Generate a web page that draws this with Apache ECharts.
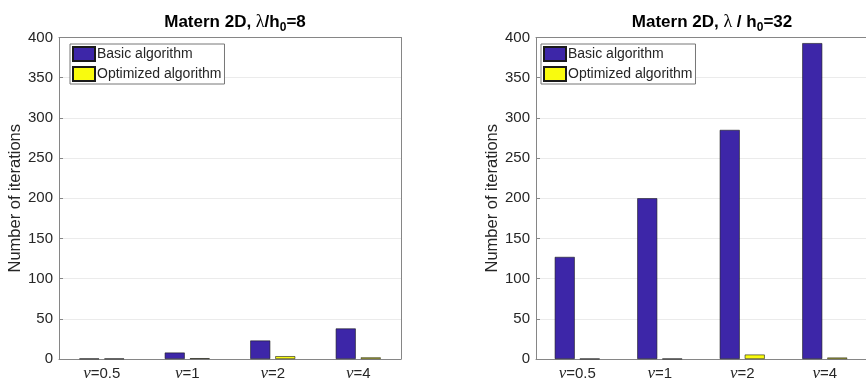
<!DOCTYPE html>
<html>
<head>
<meta charset="utf-8">
<script src="https://cdn.jsdelivr.net/npm/echarts@6/dist/echarts.min.js"></script>
<style>html,body{margin:0;padding:0;background:#fff}#c{width:866px;height:382px}</style>
</head>
<body>
<div id="c"></div>
<script>
const categories = ['0.5', '1', '2', '4'];
const basic8 = [0.5, 8, 23, 38];
const optimized8 = [0.5, 1, 3.5, 2];
const basic32 = [127, 200, 285, 393];
const optimized32 = [0.3, 0.3, 5.5, 1.8];
const yTicks = [0, 50, 100, 150, 200, 250, 300, 350, 400];

const BLUE = '#3d26a8';
const YELLOW = '#f9fb0e';
const AXIS = '#868686';
const TXT = '#262626';

const chart = echarts.init(document.getElementById('c'));

const grids = [
  {left: 59, top: 37.5, width: 342, height: 322.5},
  {left: 536, top: 37.5, width: 342, height: 322.5}
];

function xLabel(v) { return '{n|ν}{t|=' + v + '}'; }

const xAxes = [];
const yAxes = [];
[0, 1].forEach(function (g) {
  xAxes.push({
    type: 'category', gridIndex: g, data: categories, position: 'bottom',
    axisLine: {onZero: false, lineStyle: {color: AXIS, width: 1}},
    axisTick: {inside: true, alignWithLabel: true, length: 4, lineStyle: {color: AXIS}},
    axisLabel: {
      formatter: xLabel, margin: 6,
      rich: {
        n: {fontFamily: 'Liberation Serif', fontStyle: 'italic', fontSize: 17, color: TXT},
        t: {fontFamily: 'Liberation Sans, Arial', fontSize: 15, color: TXT}
      }
    },
    splitLine: {show: false}
  });
  xAxes.push({
    type: 'category', gridIndex: g, data: categories, position: 'top',
    axisLine: {onZero: false, lineStyle: {color: AXIS, width: 1}},
    axisTick: {inside: true, alignWithLabel: true, length: 4, lineStyle: {color: AXIS}},
    axisLabel: {show: false},
    splitLine: {show: false}
  });
  yAxes.push({
    type: 'value', gridIndex: g, min: yTicks[0], max: yTicks[yTicks.length - 1], interval: 50,
    name: 'Number of iterations', nameLocation: 'middle', nameGap: 31,
    nameTextStyle: {fontFamily: 'Liberation Sans, Arial', fontSize: 16.5, color: TXT},
    axisLine: {show: true, onZero: false, lineStyle: {color: AXIS, width: 1}},
    axisTick: {show: true, inside: true, length: 4, lineStyle: {color: AXIS}},
    axisLabel: {fontFamily: 'Liberation Sans, Arial', fontSize: 15, color: TXT, margin: 6},
    splitLine: {show: true, lineStyle: {color: '#ebebeb', width: 1}}
  });
  yAxes.push({
    type: 'value', gridIndex: g, min: 0, max: 400, interval: 50, position: 'right',
    axisLine: {show: true, onZero: false, lineStyle: {color: AXIS, width: 1}},
    axisTick: {show: false}, axisLabel: {show: false}, splitLine: {show: false}
  });
});

function barSeries(name, data, color, g) {
  return {
    type: 'bar', name: name, data: data,
    xAxisIndex: g * 2, yAxisIndex: g * 2,
    barWidth: 20, barGap: '25%',
    itemStyle: {color: color, borderColor: '#1a1a1a', borderWidth: 0.6},
    emphasis: {disabled: true}
  };
}

function legend(left) {
  return {
    data: ['Basic algorithm', 'Optimized algorithm'],
    orient: 'vertical', left: left, top: 44,
    itemWidth: 22, itemHeight: 14, itemGap: 4,
    padding: [2, 3, 2, 2],
    borderColor: '#777', borderWidth: 1, backgroundColor: '#fff',
    textStyle: {fontFamily: 'Liberation Sans, Arial', fontSize: 14, color: TXT, padding: [0, 0, 0, -3]},
    icon: 'rect', selectedMode: false
  };
}

function title(center, val, sep) {
  return {
    text: '{b|Matern 2D, }{l|λ}{b|' + sep + 'h}{s|0}{b|=' + val + '}',
    left: center, top: 6, textAlign: 'center',
    textStyle: {
      rich: {
        b: {fontFamily: 'Liberation Sans, Arial', fontWeight: 'bold', fontSize: 17, color: '#000', lineHeight: 22},
        l: {fontFamily: 'Liberation Serif', fontWeight: 'normal', fontSize: 18, color: '#000', lineHeight: 22},
        s: {fontFamily: 'Liberation Sans, Arial', fontWeight: 'bold', fontSize: 12, color: '#000', lineHeight: 22, padding: [11, 0, 0, 0]}
      }
    }
  };
}

chart.setOption({
  animation: false,
  title: [title(230, '8', '/'), title(707, '32', ' / ')],
  legend: [legend(70), legend(541)],
  grid: grids,
  xAxis: xAxes,
  yAxis: yAxes,
  series: [
    barSeries('Basic algorithm', basic8, BLUE, 0),
    barSeries('Optimized algorithm', optimized8, YELLOW, 0),
    barSeries('Basic algorithm', basic32, BLUE, 1),
    barSeries('Optimized algorithm', optimized32, YELLOW, 1)
  ]
});
</script>
</body>
</html>
